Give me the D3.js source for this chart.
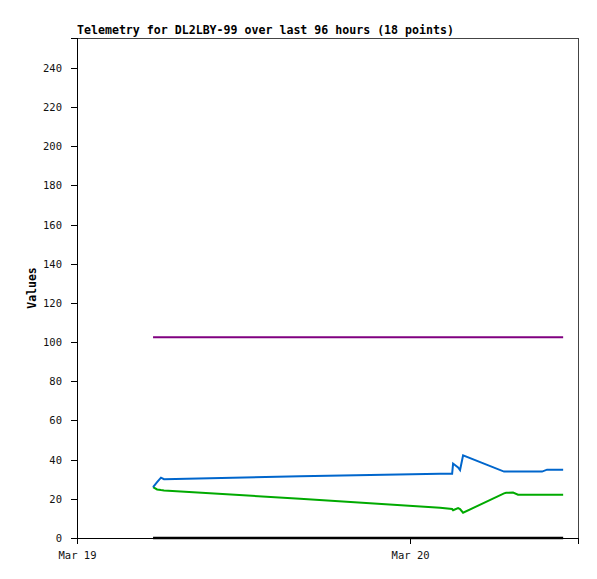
<!DOCTYPE html>
<html>
<head>
<meta charset="utf-8">
<script src="https://cdn.jsdelivr.net/npm/d3@7"></script>
<style>
  html, body { margin: 0; padding: 0; background: #fff; }
  text { font-family: "DejaVu Sans Mono", monospace; }
</style>
</head>
<body>
<div id="chart"></div>
<script>
// ---- data ----
const titleText = "Telemetry for DL2LBY-99 over last 96 hours (18 points)";
const yLabel = "Values";
// hours after Mar 19 00:00
const hours = [5.48, 5.77, 6.05, 6.27, 16.07, 26.16, 27.03, 27.10, 27.46, 27.60, 27.82, 30.77, 30.92, 31.42, 31.78, 33.51, 33.87, 35.03];
const blueValues = [26.0, 28.5, 30.8, 30.0, 31.5, 32.8, 32.8, 38.0, 36.0, 34.7, 42.2, 33.9, 33.9, 33.9, 33.9, 33.9, 34.9, 34.9];
const greenValues = [26.0, 24.8, 24.5, 24.3, 20.0, 15.5, 14.8, 14.2, 15.3, 14.8, 12.9, 22.8, 23.1, 23.2, 22.1, 22.1, 22.1, 22.1];
const purpleValues = [102.5, 102.5, 102.5, 102.5, 102.5, 102.5, 102.5, 102.5, 102.5, 102.5, 102.5, 102.5, 102.5, 102.5, 102.5, 102.5, 102.5, 102.5];
const blackValues = [0, 0, 0, 0, 0, 0, 0, 0, 0, 0, 0, 0, 0, 0, 0, 0, 0, 0];
const yTicks = [0, 20, 40, 60, 80, 100, 120, 140, 160, 180, 200, 220, 240];
const xTickHours = [0, 24];
const xTickLabels = ["Mar 19", "Mar 20"];
const yMax = 255.3;
const xMaxHours = 36.1;

const seriesList = [
  { name: "black", values: blackValues, color: "#000000" },
  { name: "purple", values: purpleValues, color: "#800080" },
  { name: "green", values: greenValues, color: "#00aa00" },
  { name: "blue", values: blueValues, color: "#0066cc" }
];

// ---- layout ----
const W = 597, H = 579;
const m = { left: 77, top: 38, right: 19, bottom: 41 };
const svg = d3.select("#chart").append("svg").attr("width", W).attr("height", H);

const base = new Date(2024, 2, 19, 0, 0, 0);
const toDate = h => new Date(base.getTime() + h * 3600 * 1000);

const x = d3.scaleTime()
  .domain([toDate(0), toDate(xMaxHours)])
  .range([m.left, W - m.right]);
const y = d3.scaleLinear()
  .domain([0, yMax])
  .range([H - m.bottom, m.top]);

// frame top/right
svg.append("path")
  .attr("d", `M${m.left},${m.top + 0.5}H${W - m.right + 0.5}V${H - m.bottom}`)
  .attr("fill", "none").attr("stroke", "#444").attr("stroke-width", 1)
  .attr("shape-rendering", "crispEdges");

// y axis
const yAxis = d3.axisLeft(y).tickValues(yTicks).tickSize(6).tickPadding(9).tickFormat(d3.format("d"));
const gy = svg.append("g").attr("transform", `translate(${m.left},0)`).call(yAxis);
gy.select(".domain").attr("stroke", "#000").attr("shape-rendering", "crispEdges");
gy.selectAll(".tick line").attr("stroke", "#000").attr("shape-rendering", "crispEdges");
gy.selectAll(".tick text").attr("font-family", "DejaVu Sans Mono, monospace").attr("font-size", "10.5px").attr("fill", "#111");

// x axis
const xAxis = d3.axisBottom(x).tickValues(xTickHours.map(toDate)).tickSize(6).tickPadding(8)
  .tickFormat((d, i) => xTickLabels[i]);
const gx = svg.append("g").attr("transform", `translate(0,${H - m.bottom})`).call(xAxis);
gx.select(".domain").attr("stroke", "#000").attr("shape-rendering", "crispEdges");
gx.selectAll(".tick line").attr("stroke", "#000").attr("shape-rendering", "crispEdges");
gx.selectAll(".tick text").attr("font-family", "DejaVu Sans Mono, monospace").attr("font-size", "10.5px").attr("fill", "#111");

// lines
const line = d3.line().x((d, i) => x(toDate(hours[i]))).y(d => y(d));
svg.append("g").selectAll("path").data(seriesList).join("path")
  .attr("d", s => line(s.values))
  .attr("fill", "none")
  .attr("stroke", s => s.color)
  .attr("stroke-width", s => s.name === "black" ? 2.5 : 2)
  .attr("stroke-linejoin", "miter");

// title
svg.append("text")
  .attr("x", m.left).attr("y", 34)
  .attr("font-size", "11.6px").attr("font-weight", "bold")
  .attr("fill", "#000")
  .text(titleText);

// y label
svg.append("text")
  .attr("transform", `translate(36,${(m.top + H - m.bottom) / 2}) rotate(-90)`)
  .attr("text-anchor", "middle")
  .attr("font-size", "11.5px").attr("font-weight", "bold")
  .attr("fill", "#000")
  .text(yLabel);
</script>
</body>
</html>
